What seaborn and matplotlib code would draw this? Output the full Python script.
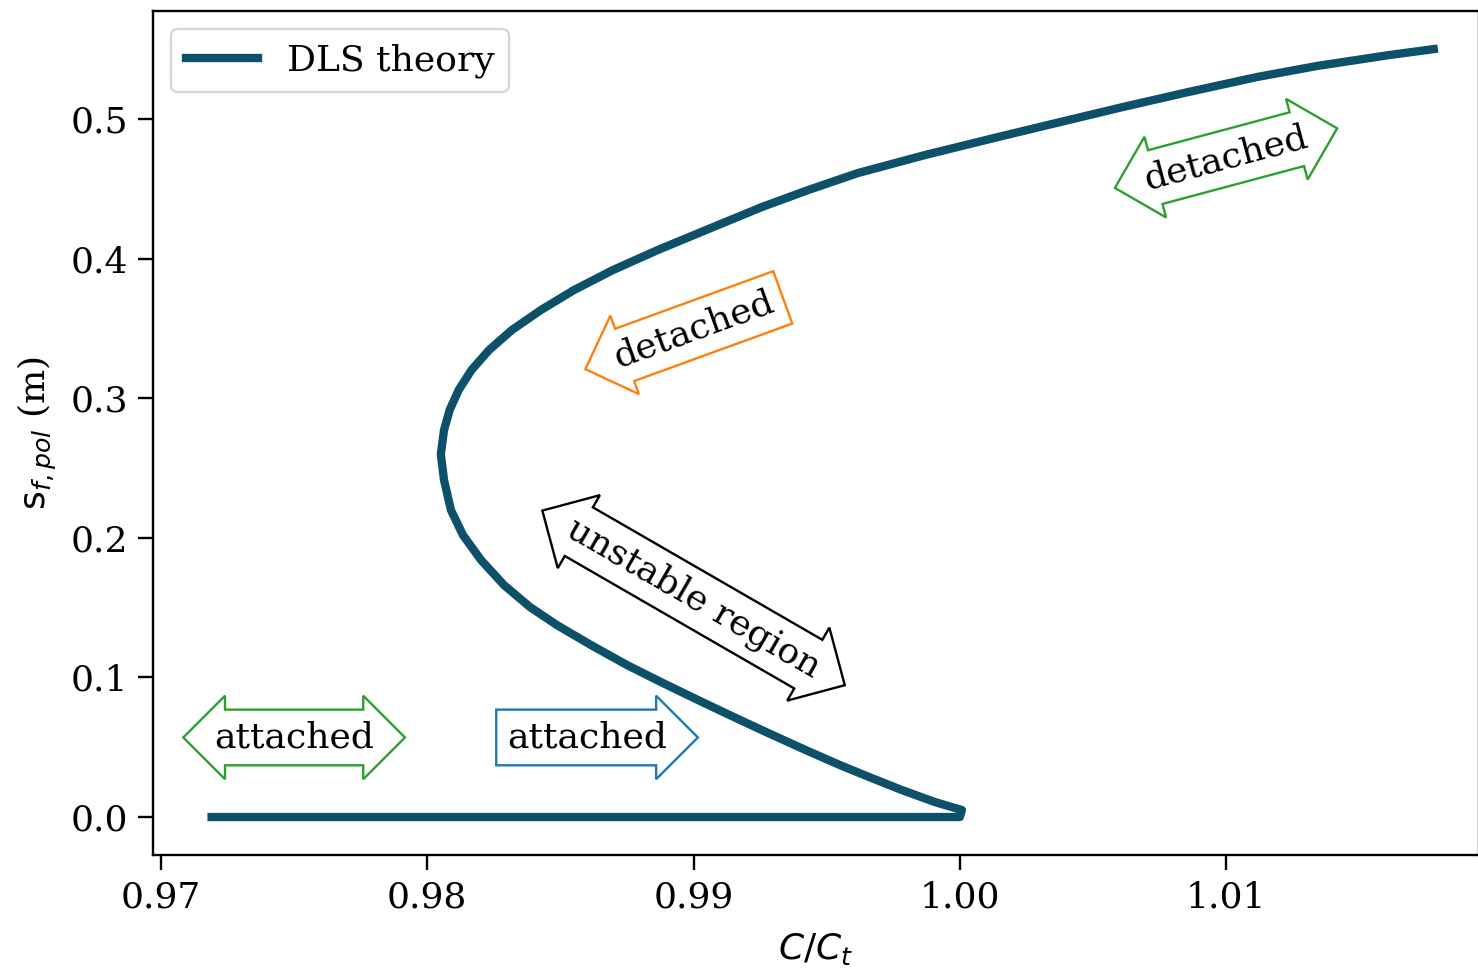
import matplotlib
matplotlib.use("Agg")
import matplotlib.pyplot as plt
import seaborn as sns

# Attached (lower) branch of the DLS solution
lower_ratio = [0.9719, 1.0000]
lower_s = [0.0, 0.0]

# Unstable branch, from the fold at C/C_t = 1 back to the turning point
unstable_ratio = [1.00008, 0.99907, 0.99783, 0.99659, 0.99550, 0.99421,
                  0.99272, 0.99135, 0.99017, 0.98885, 0.98750, 0.98615,
                  0.98487, 0.98386, 0.98288, 0.98202, 0.98134, 0.98089,
                  0.98063, 0.98051]
unstable_s = [0.0050, 0.0107, 0.0193, 0.0287, 0.0372, 0.0480,
              0.0609, 0.0731, 0.0838, 0.0960, 0.1089, 0.1232,
              0.1375, 0.1504, 0.1662, 0.1841, 0.2020, 0.2199,
              0.2414, 0.2600]

# Detached (upper) branch, from the turning point upwards
detached_ratio = [0.98063, 0.98084, 0.98118, 0.98166, 0.98232, 0.98318,
                  0.98427, 0.98551, 0.98697, 0.98866, 0.99047, 0.99257,
                  0.99430, 0.99617, 0.99869, 1.00143, 1.00376, 1.00612,
                  1.00857, 1.01116, 1.01341, 1.01611, 1.01780]
detached_s = [0.2772, 0.2915, 0.3059, 0.3202, 0.3345, 0.3489,
              0.3632, 0.3775, 0.3918, 0.4062, 0.4205, 0.4370,
              0.4491, 0.4613, 0.4742, 0.4871, 0.4978, 0.5086,
              0.5193, 0.5301, 0.5380, 0.5458, 0.5501]

x_ticks = [0.97, 0.98, 0.99, 1.00, 1.01]
y_ticks = [0.0, 0.1, 0.2, 0.3, 0.4, 0.5]

# Region labels: text, C/C_t, s, rotation, arrow style, edge colour
region_notes = [
    ("attached", 0.9750, 0.057, 0, "darrow", "#2ca02c"),
    ("attached", 0.9860, 0.057, 0, "rarrow", "#1f77b4"),
    ("unstable region", 0.9900, 0.157, -30, "darrow", "black"),
    ("detached", 0.9900, 0.349, 20, "larrow", "#ff7f0e"),
    ("detached", 1.0100, 0.472, 15, "darrow", "#2ca02c"),
]

FS = 26
plt.rcParams["font.family"] = "serif"
plt.rcParams["font.serif"] = ["DejaVu Serif"]
plt.rcParams["mathtext.fontset"] = "dejavusans"

fig = plt.figure(figsize=(14.78, 9.68), dpi=100)
W, H = 1478, 968
ax = fig.add_axes([153 / W, 1 - 855 / H, (1479 - 153) / W, (855 - 11) / H])

ratio = lower_ratio + unstable_ratio + detached_ratio
s_pol = lower_s + unstable_s + detached_s
sns.lineplot(x=ratio, y=s_pol, sort=False, estimator=None, ax=ax,
             color="#0c5069", linewidth=6, label="DLS theory",
             solid_joinstyle="round")

ax.set_xlim(0.9697, 1.01950)
ax.set_ylim(-0.0272, 0.5774)
ax.set_xticks(x_ticks)
ax.set_xticklabels([f"{v:.2f}" for v in x_ticks])
ax.set_yticks(y_ticks)
ax.set_yticklabels([f"{v:.1f}" for v in y_ticks])
ax.tick_params(labelsize=FS, length=10.5, width=1.7, pad=7.6, direction="out")
for sp in ax.spines.values():
    sp.set_linewidth(1.7)

ax.set_xlabel(r"$C/C_t$", fontsize=FS, labelpad=12)
ax.set_ylabel(r"$\mathrm{s}_{f,pol}$ (m)", fontsize=FS, labelpad=8)

for text, xv, yv, rot, style, col in region_notes:
    ax.text(xv, yv, text, fontsize=FS, rotation=rot, ha="center", va="center",
            rotation_mode="anchor",
            bbox=dict(boxstyle=f"{style},pad=0.3", fc="white", ec=col, lw=1.7))

leg = ax.legend(loc="upper left", fontsize=FS, handlelength=2.0,
                borderaxespad=0.5, fancybox=True)
leg.get_frame().set_linewidth(1.7)

fig.savefig("out.png", dpi=100)
